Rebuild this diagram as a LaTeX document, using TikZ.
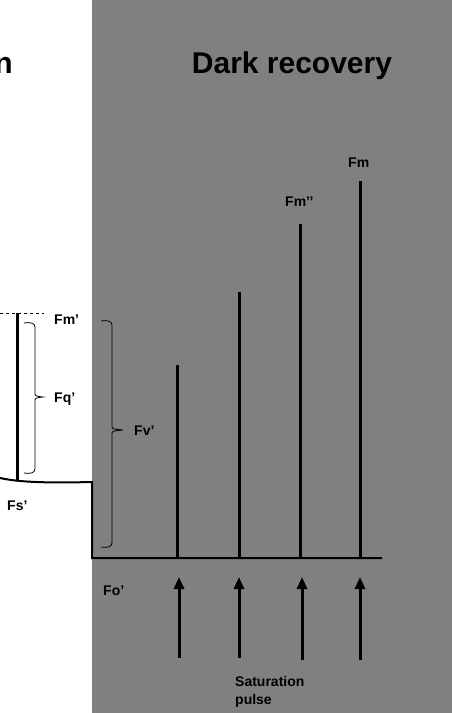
\documentclass[tikz,border=0pt]{standalone}
\usepackage{fontspec}
\setmainfont{Liberation Sans}
\usetikzlibrary{arrows.meta}
\definecolor{bggray}{RGB}{128,128,128}
\begin{document}
\begin{tikzpicture}[x=1pt,y=-1pt,
  lbl/.style={font=\fontsize{14}{16}\selectfont\bfseries, inner sep=0pt, anchor=base west},
  ttl/.style={font=\fontsize{30}{34}\selectfont\bfseries, inner sep=0pt},
  peak/.style={line width=3pt},
  pulse/.style={line width=3pt,-{Triangle[width=10pt,length=12pt]}},
  brace/.style={line width=0.8pt},
  trace/.style={line width=2pt}]
\useasboundingbox (0,0) rectangle (452,713);
\fill[bggray] (92,0) rectangle (452,713);
% titles
\node[ttl, anchor=base east] (tl) at (13,73) {n};
\node[ttl, anchor=base] (tr) at (292,73) {Dark recovery};
% left part
\coordinate (dl) at (0,313);
\coordinate (dr) at (44,313);
\draw[line width=0.8pt, dash pattern=on 3pt off 3pt] (dl) -- (dr);
\coordinate (lt) at (17,313);
\coordinate (lb) at (17,481);
\draw[peak] (lt) -- (lb);
\coordinate (c0) at (0,478);
\coordinate (c1) at (92,482);
\coordinate (c2) at (92,558);
\coordinate (c3) at (382,558);
\draw[trace] (c0) .. controls (20,482.5) and (50,483) .. (c1) -- (c2) -- (c3);
% Fq' brace
\draw[brace] (24,323) .. controls (30,322) and (35,323) .. (35,327) -- (35,393)
  .. controls (35,396) .. (43,397) .. controls (35,398) .. (35,401) -- (35,469)
  .. controls (35,473) and (30,474) .. (24,473);
% Fv' brace
\draw[brace] (101,321) .. controls (107,320) and (112,321) .. (112,325) -- (112,426)
  .. controls (112,429) .. (123,430) .. controls (112,431) .. (112,434) -- (112,543)
  .. controls (112,547) and (107,548) .. (101,547);
% labels
\node[lbl] (fmp) at (54,324) {Fm'};
\node[lbl] (fqp) at (54,402) {Fq'};
\node[lbl] (fvp) at (134,435) {Fv'};
\node[lbl] (fsp) at (7,510) {Fs'};
\node[lbl] (fop) at (103,595) {Fo'};
\node[lbl] (fm) at (348,167) {Fm};
\node[lbl] (fmpp) at (285,206) {Fm’’};
\node[lbl, align=left, anchor=north west, font=\fontsize{14}{18}\selectfont\bfseries] (sat) at (235,676) {Saturation\\pulse};
% peaks
\foreach \n/\x/\t in {a/177/365, b/239/292, c/300/224, d/360/181}{
  \coordinate (p\n t) at (\x,\t);
  \coordinate (p\n b) at (\x,558);
  \draw[peak] (p\n b) -- (p\n t);
}
% pulses
\foreach \n/\x/\b in {a/179/658, b/239/658, c/302/660, d/360/660}{
  \coordinate (s\n b) at (\x,\b);
  \coordinate (s\n t) at (\x,577);
  \draw[pulse] (s\n b) -- (s\n t);
}
\end{tikzpicture}
\end{document}
